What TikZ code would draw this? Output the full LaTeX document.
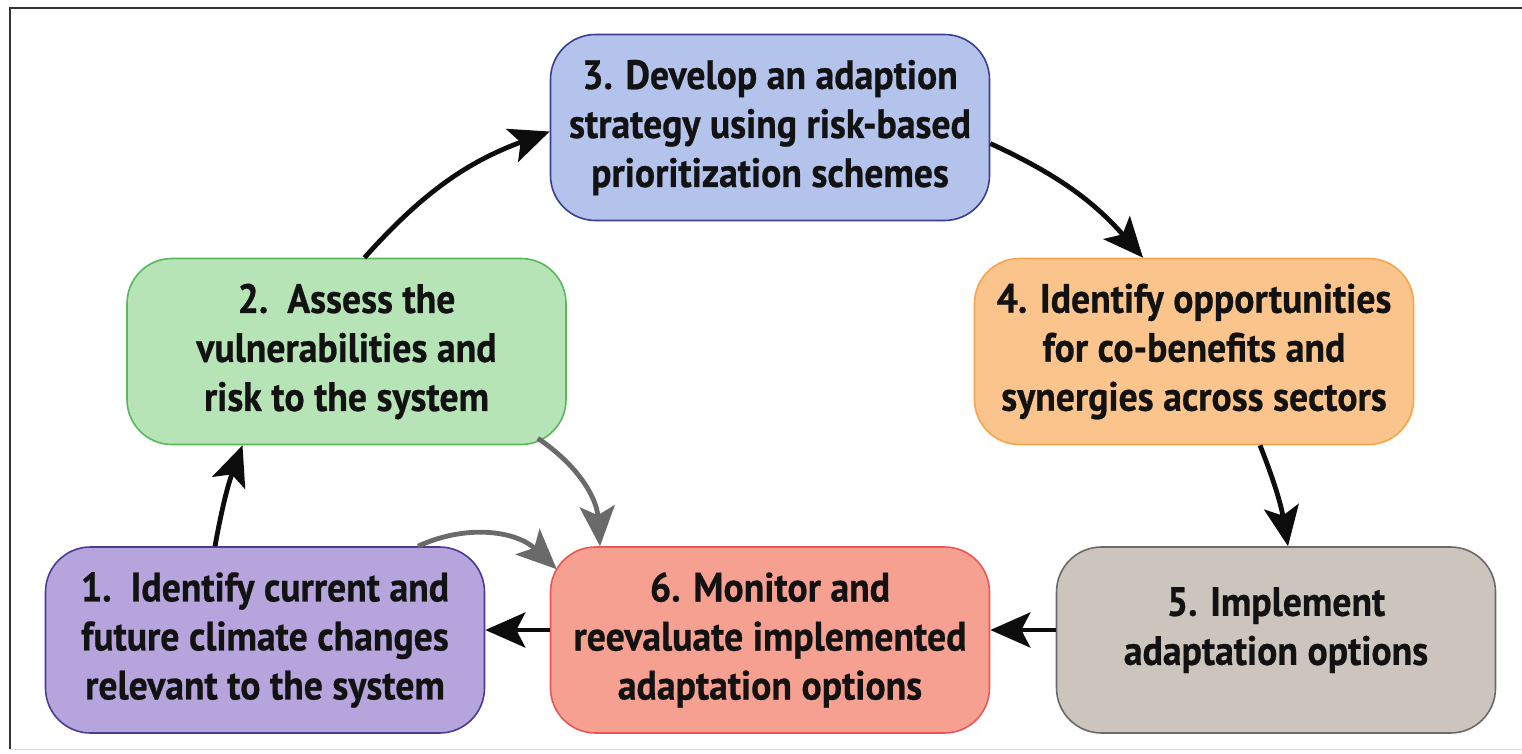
\documentclass[tikz,border=0pt]{standalone}
\usepackage{fontspec}
\setmainfont{PT Sans}[BoldFont={PT Sans Bold},BoldFeatures={FakeStretch=0.92,FakeBold=0.6}]
\usetikzlibrary{arrows.meta,positioning}
\definecolor{f3}{HTML}{B4C3EB}\definecolor{d3}{HTML}{3B3F91}
\definecolor{f2}{HTML}{B6E4B6}\definecolor{d2}{HTML}{58B85C}
\definecolor{f4}{HTML}{FBC48C}\definecolor{d4}{HTML}{F6A548}
\definecolor{f1}{HTML}{B6A5DC}\definecolor{d1}{HTML}{4E3A96}
\definecolor{f6}{HTML}{F5A091}\definecolor{d6}{HTML}{EE5555}
\definecolor{f5}{HTML}{CBC5BD}\definecolor{d5}{HTML}{6A6A6A}
\definecolor{garrow}{HTML}{6A6A6A}
\tikzset{
  stepbox/.style={rounded corners=45pt, line width=1.6pt, align=center,
    minimum width=439pt, minimum height=186pt, inner sep=0pt,
    font=\bfseries\fontsize{41}{49}\selectfont, text=black!93},
  flow/.style={line width=4.8pt, draw=black!95,
    -{Stealth[length=40pt,width=35pt,inset=9pt]}},
  back/.style={flow, draw=garrow},
}
\begin{document}
\begin{tikzpicture}[x=1pt,y=-1pt]
\useasboundingbox (0,0) rectangle (1522,754);
\fill[white] (0,0) rectangle (1522,754);
\draw[line width=1.6pt, black!80] (10,749) -- (10,8) -- (1522,8);
\draw[line width=1pt, black!15] (10,749) -- (1522,749);

\node[stepbox, fill=f3, draw=d3] (b3) at (770,127.5) {3. Develop an adaption\\strategy using risk-based\\prioritization schemes};
\node[stepbox, fill=f2, draw=d2] (b2) at (346.5,351.5) {2.\ \ Assess the\\vulnerabilities and\\risk to the system};
\node[stepbox, fill=f4, draw=d4] (b4) at (1194,351.5) {4. Identify opportunities\\for co-benefits and\\synergies across sectors};
\node[stepbox, fill=f1, draw=d1] (b1) at (265,640) {1.\ \ Identify current and\\future climate changes\\relevant to the system};
\node[stepbox, fill=f6, draw=d6] (b6) at (770,640) {6. Monitor and\\reevaluate implemented\\adaptation options};
\node[stepbox, fill=f5, draw=d5] (b5) at (1276,640) {5. Implement\\adaptation options\rule[-28pt]{0pt}{1pt}};

\draw[flow] ([xshift=-50pt]b1.north) to[bend left=5] ([xshift=-104pt]b2.south);
\draw[flow] ([xshift=18pt]b2.north) to[bend left=14] ([yshift=-4pt]b3.west);
\draw[flow] ([yshift=-16pt]b3.east) to[bend left=12] ([xshift=-51pt]b4.north);
\draw[flow] ([xshift=66pt]b4.south) to[bend left=6] ([xshift=12pt]b5.north);
\draw[flow] ([yshift=10pt]b5.west) -- ([yshift=10pt]b6.east);
\draw[flow] ([yshift=10pt]b6.west) -- ([yshift=10pt]b1.east);
\draw[back] ([xshift=-29pt,yshift=7pt]b2.south east) to[bend left=26] ([xshift=-170pt]b6.north);
\draw[back] ([xshift=153pt]b1.north) to[bend left=34] ([xshift=7pt,yshift=-23pt]b6.north west);
\end{tikzpicture}
\end{document}
